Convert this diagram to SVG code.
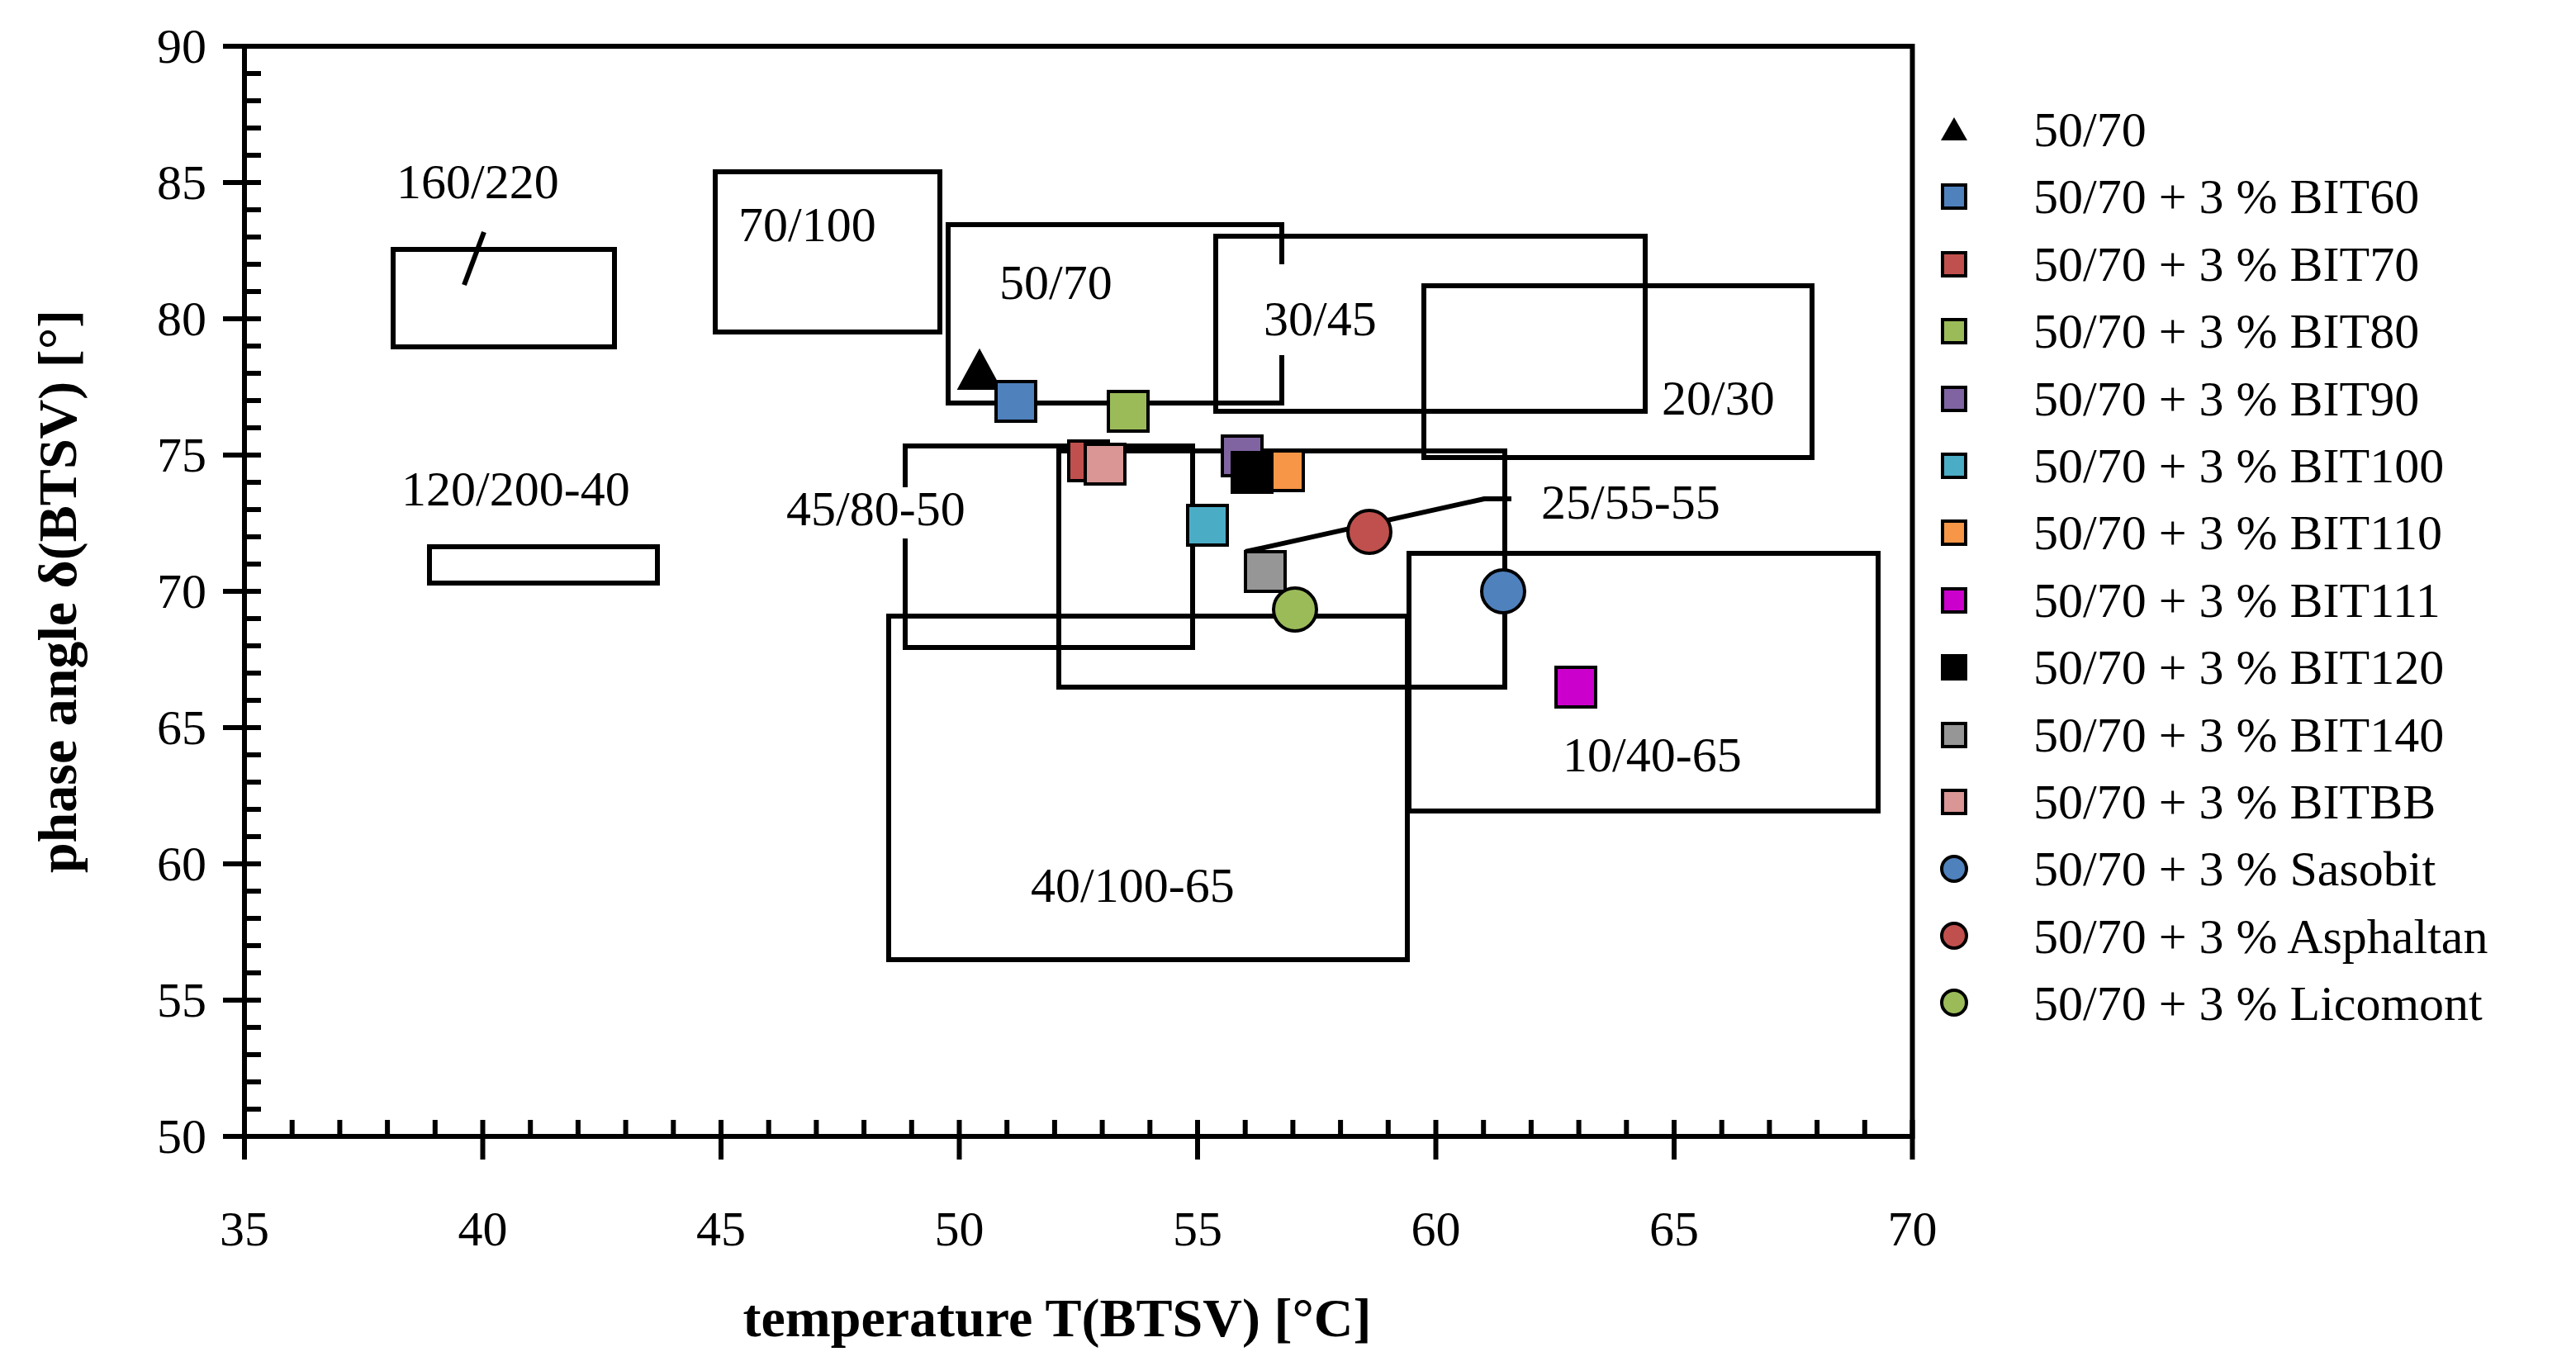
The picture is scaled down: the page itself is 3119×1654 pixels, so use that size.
<svg xmlns="http://www.w3.org/2000/svg" width="3119" height="1654" viewBox="0 0 3119 1654">
<style>
text{font-family:"Liberation Serif",serif;font-size:60px;fill:#000}
.b{fill:none;stroke:#000;stroke-width:6}
.ax{fill:none;stroke:#000;stroke-width:6}
.m{stroke:#000;stroke-width:4}
.yl{text-anchor:end}
.xl{text-anchor:middle}
.t{font-weight:bold;font-size:66px}
</style>
<rect width="3119" height="1654" fill="#fff"/>
<g id="axes">
<rect class="ax" x="296" y="56" width="2019.5" height="1320"/>
<path class="ax" d="M296 89h20M296 122h20M296 155h20M296 188h20M296 221h20M296 254h20M296 287h20M296 320h20M296 353h20M296 386h20M296 419h20M296 452h20M296 485h20M296 518h20M296 551h20M296 584h20M296 617h20M296 650h20M296 683h20M296 716h20M296 749h20M296 782h20M296 815h20M296 848h20M296 881h20M296 914h20M296 947h20M296 980h20M296 1013h20M296 1046h20M296 1079h20M296 1112h20M296 1145h20M296 1178h20M296 1211h20M296 1244h20M296 1277h20M296 1310h20M296 1343h20M270 56h26M270 221h26M270 386h26M270 551h26M270 716h26M270 881h26M270 1046h26M270 1211h26M270 1376h26"/>
<path class="ax" d="M353.7 1376v-20M411.4 1376v-20M469.1 1376v-20M526.8 1376v-20M642.2 1376v-20M699.9 1376v-20M757.6 1376v-20M815.3 1376v-20M930.7 1376v-20M988.4 1376v-20M1046.1 1376v-20M1103.8 1376v-20M1219.2 1376v-20M1276.9 1376v-20M1334.6 1376v-20M1392.3 1376v-20M1507.7 1376v-20M1565.4 1376v-20M1623.1 1376v-20M1680.8 1376v-20M1796.2 1376v-20M1853.9 1376v-20M1911.6 1376v-20M1969.3 1376v-20M2084.7 1376v-20M2142.4 1376v-20M2200.1 1376v-20M2257.8 1376v-20M296 1356v48M584.5 1356v48M873 1356v48M1161.5 1356v48M1450 1356v48M1738.5 1356v48M2027 1356v48M2315.5 1356v48"/>
<text class="yl" x="250" y="76">90</text>
<text class="yl" x="250" y="241">85</text>
<text class="yl" x="250" y="406">80</text>
<text class="yl" x="250" y="571">75</text>
<text class="yl" x="250" y="736">70</text>
<text class="yl" x="250" y="901">65</text>
<text class="yl" x="250" y="1066">60</text>
<text class="yl" x="250" y="1231">55</text>
<text class="yl" x="250" y="1396">50</text>
<text class="xl" x="296" y="1508">35</text>
<text class="xl" x="584.5" y="1508">40</text>
<text class="xl" x="873" y="1508">45</text>
<text class="xl" x="1161.5" y="1508">50</text>
<text class="xl" x="1450" y="1508">55</text>
<text class="xl" x="1738.5" y="1508">60</text>
<text class="xl" x="2027" y="1508">65</text>
<text class="xl" x="2315.5" y="1508">70</text>
<text class="t xl" x="1280" y="1618">temperature T(BTSV) [°C]</text>
<text class="t xl" transform="translate(92 716) rotate(-90)">phase angle δ(BTSV) [°]</text>
</g>
<g id="regions">
<g id="r160"><rect class="b" x="476" y="302" width="268" height="118"/><path class="b" d="M586 281L562 345"/><text x="480" y="240">160/220</text></g>
<g id="r120"><rect class="b" x="520" y="662" width="276" height="44"/><text x="486" y="612">120/200-40</text></g>
<g id="r70"><rect class="b" x="866" y="208" width="272" height="194"/><text x="894" y="292">70/100</text></g>
<g id="r50"><path class="b" d="M1552 320V272H1148V488H1552V430"/><text x="1210" y="362">50/70</text></g>
<g id="r30"><rect class="b" x="1472" y="286" width="520" height="212"/><text x="1530" y="406">30/45</text></g>
<g id="r20"><rect class="b" x="1724" y="346" width="470" height="208"/><text x="2012" y="502">20/30</text></g>
<g id="r45"><path class="b" d="M1096 590V540H1444V784H1096V652"/><text x="952" y="636">45/80-50</text></g>
<g id="r25"><rect class="b" x="1282" y="546" width="540" height="286"/><path class="b" d="M1508 668L1797 604H1830"/><text x="1866" y="628">25/55-55</text></g>
<g id="r10"><rect class="b" x="1706" y="670" width="568" height="312"/><text x="1892" y="934">10/40-65</text></g>
<g id="r40"><rect class="b" x="1076" y="746" width="628" height="416"/><text x="1248" y="1092">40/100-65</text></g>
</g>
<g id="points">
<path class="m" d="M1186 426L1210 470H1162Z" fill="#000"/>
<rect class="m" x="1206" y="462" width="48" height="48" fill="#4f81bd"/>
<rect class="m" x="1342" y="474" width="48" height="48" fill="#9bbb59"/>
<rect class="m" x="1294" y="534" width="48" height="48" fill="#c0504d"/>
<rect class="m" x="1314" y="538" width="48" height="48" fill="#d99694"/>
<rect class="m" x="1480" y="528" width="48" height="48" fill="#8064a2"/>
<rect class="m" x="1530" y="546" width="48" height="48" fill="#f79646"/>
<rect class="m" x="1492" y="548" width="48" height="48" fill="#000"/>
<rect class="m" x="1438" y="612" width="48" height="48" fill="#4bacc6"/>
<rect class="m" x="1508" y="668" width="48" height="48" fill="#969696"/>
<rect class="m" x="1884" y="808" width="48" height="48" fill="#cc00cc"/>
<circle class="m" cx="1820" cy="716" r="26" fill="#4f81bd"/>
<circle class="m" cx="1658" cy="644" r="26" fill="#c0504d"/>
<circle class="m" cx="1568" cy="738" r="26" fill="#9bbb59"/>
</g>
<g id="legend">
<path d="M2366 142L2382 170H2350Z" fill="#000"/>
<rect class="m" x="2352" y="224" width="28" height="28" fill="#4f81bd"/>
<rect class="m" x="2352" y="306" width="28" height="28" fill="#c0504d"/>
<rect class="m" x="2352" y="387" width="28" height="28" fill="#9bbb59"/>
<rect class="m" x="2352" y="469" width="28" height="28" fill="#8064a2"/>
<rect class="m" x="2352" y="550" width="28" height="28" fill="#4bacc6"/>
<rect class="m" x="2352" y="631" width="28" height="28" fill="#f79646"/>
<rect class="m" x="2352" y="713" width="28" height="28" fill="#cc00cc"/>
<rect class="m" x="2352" y="794" width="28" height="28" fill="#000"/>
<rect class="m" x="2352" y="876" width="28" height="28" fill="#969696"/>
<rect class="m" x="2352" y="957" width="28" height="28" fill="#d99694"/>
<circle class="m" cx="2366" cy="1052" r="15" fill="#4f81bd"/>
<circle class="m" cx="2366" cy="1133" r="15" fill="#c0504d"/>
<circle class="m" cx="2366" cy="1214" r="15" fill="#9bbb59"/>
<text x="2462" y="177">50/70</text>
<text x="2462" y="258">50/70 + 3 % BIT60</text>
<text x="2462" y="340">50/70 + 3 % BIT70</text>
<text x="2462" y="421">50/70 + 3 % BIT80</text>
<text x="2462" y="503">50/70 + 3 % BIT90</text>
<text x="2462" y="584">50/70 + 3 % BIT100</text>
<text x="2462" y="665">50/70 + 3 % BIT110</text>
<text x="2462" y="747">50/70 + 3 % BIT111</text>
<text x="2462" y="828">50/70 + 3 % BIT120</text>
<text x="2462" y="910">50/70 + 3 % BIT140</text>
<text x="2462" y="991">50/70 + 3 % BITBB</text>
<text x="2462" y="1072">50/70 + 3 % Sasobit</text>
<text x="2462" y="1154">50/70 + 3 % Asphaltan</text>
<text x="2462" y="1235">50/70 + 3 % Licomont</text>
</g>
</svg>
